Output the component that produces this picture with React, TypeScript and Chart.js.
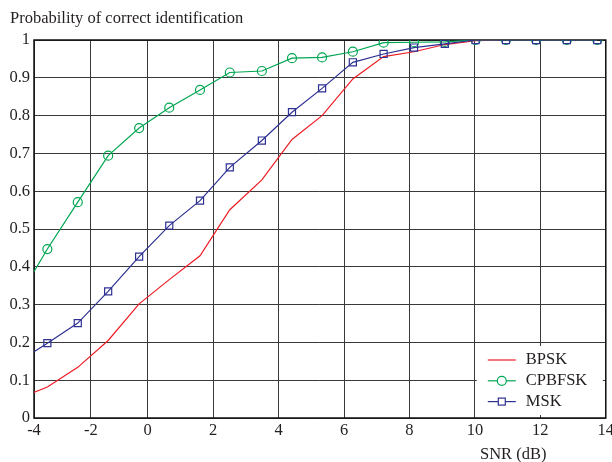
import React, { useEffect, useRef } from "react";
import { Chart, registerables, LinearScale } from "chart.js";

// ---- data ----
const snrDb = [-4.61, -3.53, -2.46, -1.39, -0.3, 0.66, 1.6, 2.51, 3.49, 4.41, 5.33, 6.27, 7.21, 8.14, 9.08, 10.02, 10.95, 11.87, 12.81, 13.74];
const bpsk = [0.049, 0.082, 0.134, 0.205, 0.302, 0.366, 0.429, 0.551, 0.63, 0.737, 0.8, 0.897, 0.956, 0.969, 0.988, 0.998, 1, 1, 1, 1];
const cpbfsk = [0.31, 0.447, 0.571, 0.694, 0.767, 0.821, 0.868, 0.914, 0.918, 0.952, 0.954, 0.969, 0.993, 0.994, 0.995, 1, 1, 1, 1, 1];
const msk = [0.146, 0.198, 0.251, 0.335, 0.427, 0.509, 0.575, 0.663, 0.734, 0.809, 0.872, 0.941, 0.963, 0.98, 0.99, 1, 1, 1, 1, 1];
const seriesNames = ["BPSK", "CPBFSK", "MSK"];
const xMin = -4, xMax = 14, xStep = 2;
const yMin = 0, yMax = 1, yStep = 0.1;
const yTitle = "Probability of correct identification";
const xTitle = "SNR (dB)";

// ---- style ----
const FONT = '"Liberation Serif", "Times New Roman", serif';
const FS = 16.5;
const TEXT = "#231f20";
const RED = "#ed1c24";
const GREEN = "#00a651";
const BLUE = "#2e3192";
// The original axis is drawn with [-4,0] compressed relative to [0,14]
const X_BREAK_FRACTION = 113.7 / 572;

class SnrScale extends LinearScale {
  static id = "snr";
  static defaults = { ...(LinearScale as any).defaults };
  toDecimal(v: number) {
    const min = (this as any).min, max = (this as any).max;
    if (v <= 0) return ((v - min) / (0 - min)) * X_BREAK_FRACTION;
    return X_BREAK_FRACTION + (v / max) * (1 - X_BREAK_FRACTION);
  }
  getPixelForValue(value: any) {
    if (value === null || value === undefined || isNaN(value)) return NaN;
    return this.getPixelForDecimal(this.toDecimal(value));
  }
  getValueForPixel(pixel: number) {
    const d = this.getDecimalForPixel(pixel);
    const min = (this as any).min, max = (this as any).max;
    if (d <= X_BREAK_FRACTION) return min + (d / X_BREAK_FRACTION) * (0 - min);
    return ((d - X_BREAK_FRACTION) / (1 - X_BREAK_FRACTION)) * max;
  }
}

Chart.register(...registerables, SnrScale as any);

const toPoints = (ys: number[]) => ys.map((y, i) => ({ x: snrDb[i], y }));
const fmt = (v: any) => String(Number(Number(v).toFixed(2)));

const decorPlugin = {
  id: "decor",
  beforeDatasetsDraw(chart: any) {
    const { ctx, chartArea: a } = chart;
    ctx.save();
    ctx.strokeStyle = "#111";
    ctx.lineWidth = 1.5;
    ctx.strokeRect(a.left, a.top, a.right - a.left, a.bottom - a.top);
    ctx.restore();
  },
  afterDatasetsDraw(chart: any) {
    const { ctx, chartArea: a } = chart;
    ctx.save();
    // legend box
    const bx = a.right - 129, by = a.bottom - 72, bw = 126, bh = 69;
    ctx.fillStyle = "#fff";
    ctx.fillRect(bx, by, bw, bh);
    ctx.font = `${FS}px ${FONT}`;
    ctx.textBaseline = "middle";
    ctx.textAlign = "left";
    chart.data.datasets.forEach((ds: any, i: number) => {
      const yy = by + 14 + i * 20.8;
      const x0 = bx + 11, x1 = bx + 39;
      ctx.strokeStyle = ds.borderColor;
      ctx.lineWidth = 1.2;
      ctx.beginPath();
      ctx.moveTo(x0, yy);
      ctx.lineTo(x1, yy);
      ctx.stroke();
      const cx = (x0 + x1) / 2;
      if (ds.pointStyle === "circle" && ds.pointRadius > 0) {
        ctx.fillStyle = "#fff";
        ctx.beginPath();
        ctx.arc(cx, yy, 4.5, 0, Math.PI * 2);
        ctx.fill();
        ctx.stroke();
      } else if (ds.pointStyle === "rect" && ds.pointRadius > 0) {
        ctx.fillStyle = "#fff";
        ctx.fillRect(cx - 3.5, yy - 3.5, 7, 7);
        ctx.strokeRect(cx - 3.5, yy - 3.5, 7, 7);
      }
      ctx.fillStyle = TEXT;
      ctx.fillText(ds.label, bx + 49, yy);
    });
    ctx.restore();
  },
  afterDraw(chart: any) {
    const { ctx } = chart;
    ctx.save();
    ctx.font = `${FS}px ${FONT}`;
    ctx.fillStyle = TEXT;
    ctx.textBaseline = "alphabetic";
    ctx.textAlign = "left";
    ctx.fillText(yTitle, 10, 23);
    ctx.fillText(xTitle, 480, 459);
    ctx.restore();
  },
};

export default function App() {
  const ref = useRef<HTMLCanvasElement | null>(null);
  useEffect(() => {
    if (!ref.current) return;
    const chart = new Chart(ref.current, {
      type: "line",
      data: {
        datasets: [
          {
            label: seriesNames[0],
            data: toPoints(bpsk),
            borderColor: RED,
            backgroundColor: RED,
            borderWidth: 1.2,
            pointRadius: 0,
            pointStyle: "circle",
            order: 2,
          },
          {
            label: seriesNames[1],
            data: toPoints(cpbfsk),
            borderColor: GREEN,
            backgroundColor: "rgba(0,0,0,0)",
            borderWidth: 1.2,
            pointRadius: 4.5,
            pointBorderWidth: 1.2,
            pointStyle: "circle",
            order: 1,
          },
          {
            label: seriesNames[2],
            data: toPoints(msk),
            borderColor: BLUE,
            backgroundColor: "rgba(0,0,0,0)",
            borderWidth: 1.2,
            pointRadius: 5,
            pointBorderWidth: 1.2,
            pointStyle: "rect",
            order: 0,
          },
        ] as any,
      },
      options: {
        animation: false,
        responsive: false,
        layout: { padding: { top: 40, right: 6, left: 0, bottom: 0 } },
        plugins: { legend: { display: false }, tooltip: { enabled: false }, title: { display: false } },
        elements: { line: { tension: 0 } },
        scales: {
          x: {
            type: "snr" as any,
            min: xMin,
            max: xMax,
            ticks: { stepSize: xStep, font: { family: FONT, size: FS }, color: TEXT, padding: 3, maxRotation: 0, autoSkip: false, callback: fmt },
            grid: { color: "#3a3a3a", lineWidth: 1, drawTicks: false },
            border: { display: false },
            afterFit: (s: any) => {
              s.height = 44;
              s.paddingLeft = 0;
              s.paddingRight = 0;
            },
          },
          y: {
            type: "linear",
            min: yMin,
            max: yMax,
            ticks: { stepSize: yStep, font: { family: FONT, size: FS }, color: TEXT, padding: 4, callback: fmt },
            grid: { color: "#3a3a3a", lineWidth: 1, drawTicks: false },
            border: { display: false },
            afterFit: (s: any) => {
              s.width = 34;
              s.paddingTop = 0;
              s.paddingBottom = 0;
            },
          },
        },
      } as any,
      plugins: [decorPlugin],
    });
    return () => chart.destroy();
  }, []);
  return (
    <div style={{ position: "absolute", left: 0, top: 0, width: 612, height: 462, background: "#fff" }}>
      <canvas ref={ref} width={612} height={462} />
    </div>
  );
}
